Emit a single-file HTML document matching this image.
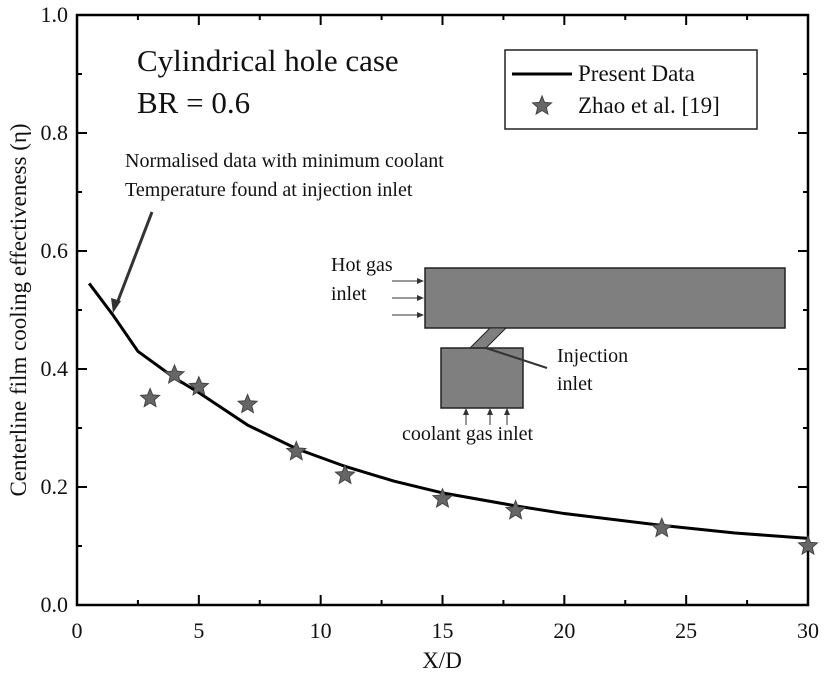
<!DOCTYPE html>
<html><head><meta charset="utf-8"><style>
body{margin:0;background:#fff}
svg text{font-family:"Liberation Serif",serif;fill:#111}
</style></head><body>
<svg id="c" width="825" height="673" xmlns="http://www.w3.org/2000/svg">
<g id="axes"></g>
<g id="inset">
  <rect x="425" y="268" width="360" height="60" fill="#7f7f7f" stroke="#222" stroke-width="1.5"/>
  <polygon points="470,348 490,328 506,328 486,348" fill="#7f7f7f" stroke="#222" stroke-width="1"/>
  <rect x="441" y="348" width="82" height="60" fill="#7f7f7f" stroke="#222" stroke-width="1.5"/>
  <g stroke="#333" stroke-width="1">
    <line x1="392" y1="281" x2="420" y2="281"/><line x1="392" y1="298" x2="420" y2="298"/><line x1="392" y1="315" x2="420" y2="315"/>
    <line x1="466" y1="413" x2="466" y2="425"/><line x1="490" y1="413" x2="490" y2="425"/><line x1="507" y1="413" x2="507" y2="425"/>
    <line x1="547" y1="368" x2="486" y2="348" stroke-width="2"/>
  </g>
  <g fill="#333">
    <polygon points="424,281 417,278 417,284"/><polygon points="424,298 417,295 417,301"/><polygon points="424,315 417,312 417,318"/>
    <polygon points="466,408 463,415 469,415"/><polygon points="490,408 487,415 493,415"/><polygon points="507,408 504,415 510,415"/>
  </g>
  <text x="331" y="271" font-size="20">Hot gas</text>
  <text x="331" y="300" font-size="20">inlet</text>
  <text x="557" y="362" font-size="20">Injection</text>
  <text x="557" y="390" font-size="20">inlet</text>
  <text x="402" y="440" font-size="20">coolant gas inlet</text>
</g>
<text x="137" y="71" font-size="31">Cylindrical hole case</text>
<text x="137" y="113" font-size="31">BR = 0.6</text>
<text x="125" y="167" font-size="20">Normalised data with minimum coolant</text>
<text x="125" y="196" font-size="20">Temperature  found at injection inlet</text>
<line x1="152" y1="212" x2="116" y2="306" stroke="#333" stroke-width="3"/>
<polygon points="113,313 111,298 121,301" fill="#333"/>
<g>
  <rect x="505" y="50" width="252" height="79" fill="#fff" stroke="#222" stroke-width="1.5"/>
  <line x1="512" y1="74" x2="572" y2="74" stroke="#000" stroke-width="3"/>
  <text x="578" y="81" font-size="23">Present Data</text>
  <text x="578" y="113" font-size="23">Zhao et al. [19]</text>
</g>
<text x="442" y="668" font-size="23" text-anchor="middle">X/D</text>
<text transform="translate(26,310) rotate(-90)" font-size="23" text-anchor="middle">Centerline film cooling effectiveness (η)</text>
</svg>
<script>
const lineX=[0.5,1.5,2.5,4,5,7,9,11,13,15,18,20,24,27,30];
const lineY=[0.545,0.49,0.43,0.385,0.36,0.305,0.265,0.235,0.21,0.19,0.168,0.155,0.135,0.122,0.113];
const expX=[3,4,5,7,9,11,15,18,24,30];
const expY=[0.35,0.39,0.37,0.34,0.26,0.22,0.18,0.16,0.13,0.10];
const xTicks=[0,5,10,15,20,25,30];
const yTicks=[0.0,0.2,0.4,0.6,0.8,1.0];
const X0=77,X1=808,Y0=605,Y1=15;
const sx=v=>X0+(X1-X0)*v/30, sy=v=>Y0-(Y0-Y1)*v;
const svg=document.getElementById('c'), ax=document.getElementById('axes');
const NS='http://www.w3.org/2000/svg';
function mk(t,a,p){const e=document.createElementNS(NS,t);for(const k in a)e.setAttribute(k,a[k]);(p||svg).appendChild(e);return e;}
const fr=mk('rect',{x:X0,y:Y1,width:X1-X0,height:Y0-Y1,fill:'none',stroke:'#000','stroke-width':2.5},ax);


for(let i=0;i<=12;i++){const v=i*2.5,x=sx(v),L=i%2?5:10;
 mk('line',{x1:x,y1:Y0,x2:x,y2:Y0-L,stroke:'#000','stroke-width':2},ax);
 mk('line',{x1:x,y1:Y1,x2:x,y2:Y1+L,stroke:'#000','stroke-width':2},ax);}
xTicks.forEach(v=>{const t=mk('text',{x:sx(v),y:Y0+33,'font-size':22,'text-anchor':'middle'},ax);t.textContent=v;
 
 });
for(let i=0;i<=10;i++){const v=i*0.1,y=sy(v),L=i%2?5:10;
 mk('line',{x1:X0,y1:y,x2:X0+L,y2:y,stroke:'#000','stroke-width':2},ax);
 mk('line',{x1:X1,y1:y,x2:X1-L,y2:y,stroke:'#000','stroke-width':2},ax);}
yTicks.forEach(v=>{const t=mk('text',{x:X0-9,y:sy(v)+7,'font-size':22,'text-anchor':'end'},ax);t.textContent=v.toFixed(1);
 
 });
const pl=mk('polyline',{points:lineX.map((x,i)=>sx(x)+','+sy(lineY[i])).join(' '),fill:'none',stroke:'#000','stroke-width':3});


function star(cx,cy,r){let p=[];for(let i=0;i<10;i++){const a=-Math.PI/2+i*Math.PI/5,rr=i%2?r*0.45:r;p.push((cx+rr*Math.cos(a)).toFixed(1)+','+(cy+rr*Math.sin(a)).toFixed(1));}return p.join(' ');}
expX.forEach((x,i)=>{const s=mk('polygon',{points:star(sx(x),sy(expY[i]),10),fill:'#666',stroke:'#444','stroke-width':1});
 
 });
const ls=mk('polygon',{points:star(542,106,10),fill:'#666',stroke:'#444','stroke-width':1});


</script>
</body></html>
